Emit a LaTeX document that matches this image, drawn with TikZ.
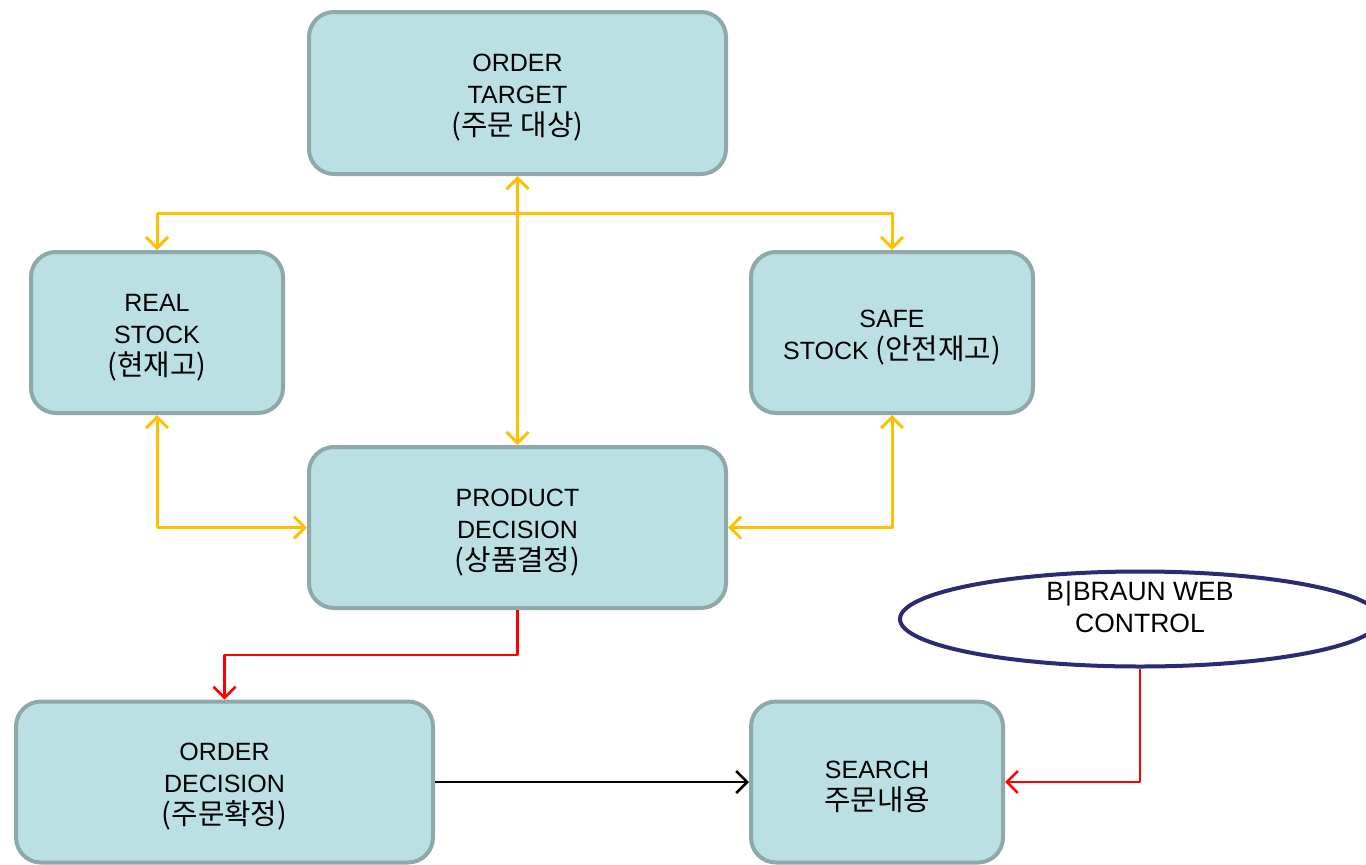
\documentclass[tikz,border=0pt]{standalone}
\usepackage{fontspec}
\setmainfont{Liberation Sans}
\newfontfamily\kr{Noto Sans CJK KR}[Scale=1.15]
\usetikzlibrary{arrows.meta,shapes.geometric}
\definecolor{boxfill}{HTML}{BBE0E3}
\definecolor{boxline}{HTML}{8FA8AA}
\definecolor{ylw}{HTML}{FFC000}
\definecolor{navy}{HTML}{2A2B73}
\begin{document}
\begin{tikzpicture}[x=1pt,y=-1pt,
  boxtext/.style={align=center, inner sep=0pt, yshift=-5pt, font=\fontsize{25pt}{32pt}\selectfont},
  box/.style={draw=boxline, fill=boxfill, line width=4pt, rounded corners=25pt,
    inner sep=0pt, label={[boxtext]center:{#1}}},
  tip/.style={-{Straight Barb[length=11pt,width=22pt]}},
  bitip/.style={{Straight Barb[length=11pt,width=22pt]}-{Straight Barb[length=11pt,width=22pt]}},
  yconn/.style={draw=ylw, line width=3pt, line cap=round, line join=round, bitip},
  rconn/.style={draw=red, line width=2.5pt, line join=round, tip},
  kconn/.style={draw=black, line width=2.5pt, tip}]
\clip (0,0) rectangle (1366,865);
\fill[white] (0,0) rectangle (1366,865);

\node[box={ORDER\\TARGET\\{\kr (주문 대상)}}, minimum width=417pt, minimum height=162pt] (target) at (517.5,93) {};
\node[box={REAL\\STOCK\\{\kr (현재고)}}, minimum width=252pt, minimum height=161pt] (real) at (157,332.5) {};
\node[box={SAFE\\STOCK {\kr (안전재고)}}, minimum width=282pt, minimum height=161pt] (safe) at (892,332.5) {};
\node[box={PRODUCT\\DECISION\\{\kr (상품결정)}}, minimum width=417pt, minimum height=161pt] (product) at (517.5,527.5) {};
\node[box={ORDER\\DECISION\\{\kr (주문확정)}}, minimum width=417pt, minimum height=161pt] (odec) at (224.5,782) {};
\node[box={SEARCH\\{\kr 주문내용}}, minimum width=252pt, minimum height=161pt] (search) at (877,782) {};
\node[draw=navy, line width=4pt, fill=white, ellipse, minimum width=480pt,
  minimum height=95pt, inner sep=0pt] (web) at (1140,619) {};
\node[align=center, font=\fontsize{26.5pt}{32pt}\selectfont] (webtext) at (1140,607)
  {B\kern1pt|\kern1ptBRAUN WEB\\CONTROL};

% yellow connectors
\draw[yconn] (target.south) -- (product.north);
\draw[yconn] (real.north) -- ++(0,-37) -| (safe.north);
\draw[yconn] (real.south) |- (product.west);
\draw[yconn] (safe.south) |- (product.east);

% red connectors
\draw[rconn] (product.south) -- ++(0,45) -| (odec.north);
\draw[rconn] (web.south) |- (search.east);

% black connector
\draw[kconn] (odec.east) -- (search.west);
\end{tikzpicture}
\end{document}
